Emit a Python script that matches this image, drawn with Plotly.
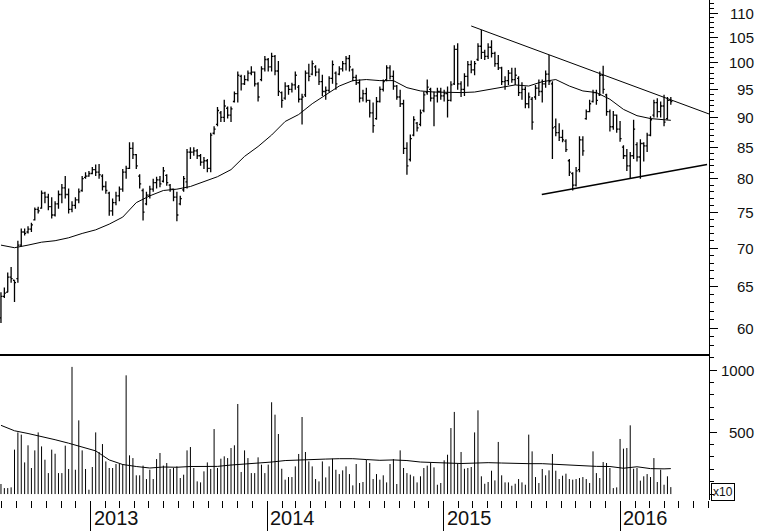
import math
import pandas as pd
import plotly.graph_objects as go
from plotly.subplots import make_subplots

# ---------------- data (weekly bars) ----------------
start_date = "2012-06-29"
n_weeks = 199

price_high = [
    64.3, 64.9, 66.8, 67.5, 65.8, 71.0, 72.7, 72.7, 73.0, 73.5,
    75.7, 75.8, 78.2, 78.0, 77.7, 77.2, 76.6, 78.2, 79.2, 80.4,
    78.5, 76.6, 77.2, 78.5, 80.4, 81.0, 81.2, 81.8, 82.2, 82.3,
    80.7, 79.6, 78.0, 77.0, 78.0, 78.8, 81.5, 82.0, 85.8, 85.8,
    83.9, 80.7, 78.5, 78.0, 78.9, 80.0, 80.3, 80.4, 81.8, 80.7,
    79.2, 78.5, 78.0, 77.4, 80.4, 84.7, 85.0, 85.0, 84.7, 83.9,
    83.4, 83.1, 87.4, 88.5, 91.8, 91.1, 93.1, 91.9, 91.9, 94.6,
    98.3, 97.7, 97.6, 98.5, 99.3, 98.3, 96.3, 99.3, 101.3, 100.9,
    101.9, 101.5, 100.3, 94.6, 96.3, 95.8, 96.2, 98.3, 95.8, 94.2,
    98.5, 99.8, 100.4, 99.5, 98.9, 97.7, 95.5, 97.4, 100.4, 98.3,
    99.3, 100.3, 101.3, 101.5, 98.9, 97.7, 96.8, 94.9, 95.3, 93.1,
    92.6, 93.6, 95.5, 96.8, 99.5, 99.5, 98.5, 95.8, 94.9, 93.1,
    85.8, 87.1, 90.2, 89.2, 91.4, 94.6, 96.8, 95.3, 94.6, 95.3,
    95.3, 94.9, 95.5, 96.5, 103.4, 103.8, 96.5, 98.0, 100.3, 100.4,
    100.3, 103.8, 106.5, 102.5, 103.8, 104.4, 102.1, 101.5, 99.2, 97.4,
    98.6, 99.0, 99.0, 97.4, 96.3, 95.5, 94.4, 93.6, 95.8, 96.8,
    96.8, 98.5, 101.5, 96.5, 89.8, 89.0, 87.9, 86.3, 83.1, 81.0,
    81.8, 86.8, 86.8, 91.4, 93.1, 94.9, 94.9, 98.3, 99.4, 94.2,
    91.4, 91.1, 90.5, 89.4, 85.3, 84.7, 84.2, 89.6, 85.8, 86.3,
    85.8, 87.4, 90.2, 93.1, 93.4, 92.8, 94.0, 93.6, 93.6,
]
price_low = [
    60.6, 63.6, 64.3, 65.5, 63.1, 65.5, 70.2, 71.7, 72.0, 72.2,
    73.8, 74.8, 75.5, 76.3, 75.3, 74.1, 74.4, 75.5, 76.3, 77.0,
    74.8, 75.0, 75.5, 76.3, 78.0, 80.0, 80.3, 80.7, 80.4, 80.0,
    78.2, 77.7, 74.5, 74.5, 76.0, 76.6, 78.0, 80.0, 81.5, 83.1,
    81.5, 78.5, 73.8, 76.0, 77.0, 78.0, 78.5, 78.7, 79.4, 78.9,
    78.0, 76.6, 73.7, 76.0, 78.0, 78.5, 83.1, 83.6, 83.1, 82.0,
    81.5, 81.0, 81.0, 87.1, 88.5, 89.2, 89.2, 89.8, 89.2, 92.6,
    92.6, 94.8, 95.8, 96.5, 97.6, 95.5, 92.8, 96.5, 98.3, 98.3,
    98.3, 97.6, 93.8, 91.7, 93.1, 94.0, 94.4, 94.9, 92.6, 88.8,
    93.6, 96.5, 97.6, 97.4, 95.8, 93.8, 93.1, 94.4, 96.0, 94.9,
    97.6, 98.3, 98.5, 98.3, 96.5, 95.8, 92.6, 92.8, 92.6, 90.0,
    87.4, 89.6, 92.6, 94.6, 96.5, 96.8, 94.9, 93.1, 91.8, 83.9,
    80.6, 82.7, 86.8, 87.6, 88.5, 90.9, 94.0, 92.8, 88.5, 92.6,
    93.1, 92.8, 90.0, 92.8, 95.8, 94.9, 93.6, 93.8, 95.5, 98.0,
    97.6, 100.3, 100.7, 100.5, 100.7, 101.0, 99.2, 98.6, 95.8, 94.9,
    95.8, 96.2, 95.8, 93.8, 93.1, 91.6, 91.6, 87.9, 93.1, 93.8,
    92.6, 95.3, 95.8, 83.1, 86.8, 86.0, 85.8, 84.2, 80.4, 78.2,
    78.8, 81.0, 83.6, 89.6, 90.9, 92.6, 92.2, 93.8, 94.2, 90.3,
    87.6, 87.9, 87.4, 85.9, 83.1, 81.2, 80.0, 83.1, 82.7, 80.0,
    82.7, 84.2, 86.8, 90.0, 90.0, 90.0, 88.5, 89.6, 92.2,
]
price_open = [
    61.2, 63.8, 64.3, 66.2, 65.8, 66.0, 70.4, 72.2, 72.2, 72.6,
    73.9, 75.4, 75.6, 77.8, 77.2, 75.8, 74.6, 76.2, 77.6, 78.6,
    77.6, 75.4, 76.0, 76.8, 78.2, 80.2, 80.4, 80.8, 81.4, 81.0,
    80.4, 78.8, 77.8, 75.2, 76.4, 77.4, 78.4, 81.0, 81.6, 84.8,
    83.8, 80.4, 78.2, 76.2, 77.5, 78.4, 79.4, 79.8, 79.6, 80.5,
    79.0, 78.4, 77.2, 76.2, 78.3, 79.5, 84.2, 84.2, 84.4, 83.6,
    82.6, 82.8, 81.6, 87.3, 88.8, 90.8, 90.0, 91.6, 90.4, 92.8,
    94.2, 97.4, 96.0, 96.8, 98.0, 98.2, 96.0, 96.8, 98.8, 100.6,
    99.2, 101.2, 98.4, 94.4, 93.4, 95.6, 95.0, 95.8, 95.4, 93.2,
    94.0, 98.0, 97.8, 99.2, 98.2, 96.4, 94.6, 94.8, 97.0, 98.0,
    97.8, 98.8, 99.8, 100.8, 98.6, 97.2, 96.2, 93.4, 94.2, 93.0,
    90.8, 89.8, 92.8, 95.0, 96.8, 99.0, 97.4, 95.6, 93.6, 92.4,
    84.8, 83.0, 87.0, 89.0, 88.8, 91.2, 94.4, 95.0, 93.4, 93.8,
    94.6, 93.8, 94.2, 93.0, 96.0, 102.6, 96.0, 95.0, 97.4, 99.6,
    98.6, 100.6, 103.2, 102.0, 101.2, 103.0, 101.8, 99.8, 99.0, 96.4,
    96.6, 98.0, 96.8, 97.0, 94.4, 95.0, 92.4, 93.2, 93.6, 95.2,
    94.6, 96.0, 97.8, 96.0, 88.4, 87.4, 86.6, 86.0, 82.8, 80.8,
    79.0, 81.4, 86.2, 89.8, 91.0, 92.8, 94.4, 94.0, 97.6, 94.0,
    91.0, 88.4, 90.4, 88.0, 85.0, 83.6, 82.0, 83.6, 85.4, 83.4,
    85.6, 85.2, 87.0, 90.4, 92.6, 91.0, 92.0, 89.8, 93.0,
]
price_close = [
    63.8, 64.2, 66.2, 66.0, 65.5, 70.4, 72.2, 72.0, 72.6, 73.2,
    75.4, 75.2, 77.8, 77.2, 75.8, 74.6, 76.2, 77.6, 78.6, 77.6,
    75.4, 76.0, 76.8, 78.0, 80.0, 80.4, 80.8, 81.4, 81.0, 80.6,
    78.8, 78.2, 75.2, 76.4, 77.4, 78.4, 81.0, 81.6, 84.8, 83.8,
    82.0, 79.2, 75.0, 77.5, 78.4, 79.4, 79.8, 79.2, 81.2, 79.4,
    78.4, 77.2, 74.6, 77.0, 80.0, 84.2, 84.2, 84.4, 83.6, 82.6,
    82.8, 81.6, 87.0, 88.0, 91.2, 90.0, 92.0, 90.4, 91.5, 94.2,
    97.6, 96.0, 96.8, 98.0, 98.2, 96.0, 93.6, 98.8, 100.6, 99.2,
    101.2, 98.4, 94.6, 93.0, 95.6, 95.0, 95.8, 97.6, 93.2, 93.6,
    98.0, 97.4, 99.8, 98.2, 96.4, 94.6, 94.8, 97.0, 99.6, 96.0,
    98.8, 99.8, 100.8, 99.2, 97.2, 96.2, 93.4, 94.2, 93.0, 90.8,
    88.6, 92.8, 95.0, 96.4, 99.0, 97.4, 95.6, 93.6, 92.4, 84.8,
    82.0, 86.4, 89.6, 88.2, 90.8, 94.0, 95.4, 93.4, 93.8, 94.6,
    93.8, 94.2, 93.0, 95.8, 102.6, 96.0, 95.0, 97.4, 99.6, 98.6,
    99.8, 103.2, 102.0, 101.2, 103.0, 101.8, 99.8, 99.0, 96.4, 96.6,
    98.0, 96.8, 97.6, 94.4, 95.0, 92.4, 93.6, 89.2, 95.2, 94.6,
    96.0, 97.8, 96.4, 88.2, 87.4, 86.6, 86.2, 84.6, 81.0, 79.0,
    81.2, 86.2, 84.4, 91.0, 92.4, 94.4, 93.0, 97.6, 95.0, 91.0,
    88.4, 90.4, 88.0, 86.4, 83.6, 82.0, 83.6, 88.0, 83.4, 85.6,
    85.2, 87.0, 89.6, 92.6, 91.0, 92.0, 89.2, 93.0, 92.8,
]
volume = [
    81, 48, 48, 54, 358, 497, 479, 255, 393, 210,
    352, 497, 384, 277, 169, 358, 325, 169, 169, 390,
    202, 1025, 196, 594, 352, 202, 35, 218, 497, 339,
    403, 263, 210, 210, 242, 242, 242, 957, 312, 290,
    151, 151, 229, 121, 196, 121, 282, 331, 229, 250,
    202, 210, 223, 129, 156, 352, 379, 210, 102, 94,
    183, 255, 202, 524, 210, 285, 304, 290, 371, 393,
    726, 178, 352, 290, 169, 169, 296, 237, 169, 237,
    740, 640, 484, 204, 116, 137, 137, 223, 323, 621,
    339, 263, 223, 121, 102, 263, 134, 223, 285, 196,
    161, 191, 223, 161, 70, 242, 89, 97, 277, 250,
    121, 161,
    116, 151, 94, 242, 282, 81, 352, 210, 169, 156,
    143, 94, 143, 210, 229, 250, 215, 75, 89, 272,
    317, 532, 662, 245, 339, 204, 210, 218, 497, 675,
    143, 83, 97, 188, 110, 420, 151, 94, 94, 67,
    83, 121, 94, 75, 479, 344, 137, 89, 202, 151,
    191, 323, 188, 121, 148, 164, 121, 116, 121, 129,
    137, 121, 89, 344, 169, 129, 258, 250, 210, 48,
    54, 444, 366, 371, 554, 204, 210, 108, 143, 161,
    137, 290, 97, 196, 75, 143, 56,
]
# moving averages, read every 4th week plus the last week
price_ma = [
    70.4, 70.05, 70.4, 70.8, 71.0, 71.4, 72.0, 72.5, 73.3, 74.3,
    76.4, 77.4, 78.2, 78.4, 78.8, 79.6, 80.3, 81.4, 83.5, 85.1,
    87.0, 89.3, 90.5, 92.4, 94.0, 95.6, 96.6, 96.8, 96.6, 96.6,
    95.3, 94.7, 94.5, 94.4, 94.4, 94.5, 94.9, 95.4, 95.8, 95.6,
    96.4, 96.8, 95.6, 94.7, 94.4, 93.2, 91.4, 90.3, 89.8, 89.6,
    89.5,
]
volume_ma = [
    554, 510, 488, 466, 438, 410, 380, 348, 275, 238,
    222, 210, 218, 216, 222, 221, 223, 234, 242, 245,
    258, 270, 276, 279, 282, 285, 285, 278, 272, 275,
    270, 258, 252, 250, 246, 250, 253, 250, 246, 245,
    245, 238, 233, 226, 223, 222, 208, 220, 205, 203,
    205,
]
upper_trend_dates = ["2015-02-27", "2016-07-03"]
upper_trend_prices = [107.3, 90.6]
lower_trend_dates = ["2015-07-23", "2016-06-29"]
lower_trend_prices = [77.6, 82.2]

price_ticks = [60, 65, 70, 75, 80, 85, 90, 95, 100, 105, 110]
price_minor_ticks = [v for v in range(58, 113) if v % 5 != 0]
volume_ticks = [500, 1000]
volume_minor_ticks = [0, 100, 200, 300, 400, 600, 700, 800, 900, 1100]
year_labels = ["2013", "2014", "2015", "2016"]
x_range = ["2012-06-27", "2016-07-03"]
price_range = [57.1, 112.8]
volume_range = [-48, 1129]

# ---------------- figure ----------------
dates = pd.date_range(start_date, periods=n_weeks, freq="7D")
ma_dates = list(dates[::4]) + [dates[-1]]

fig = make_subplots(rows=2, cols=1, shared_xaxes=True, vertical_spacing=0,
                    row_heights=[0.708, 0.292])

fig.add_trace(go.Ohlc(
    x=dates, open=price_open, high=price_high, low=price_low, close=price_close,
    increasing=dict(line=dict(color="black", width=1.3)),
    decreasing=dict(line=dict(color="black", width=1.3)),
    tickwidth=0.45, showlegend=False, hoverinfo="skip"), row=1, col=1)

fig.add_trace(go.Scatter(x=ma_dates, y=price_ma, mode="lines",
                         line=dict(color="black", width=1), showlegend=False,
                         hoverinfo="skip"), row=1, col=1)
fig.add_trace(go.Scatter(x=upper_trend_dates, y=upper_trend_prices, mode="lines",
                         line=dict(color="black", width=1), showlegend=False,
                         hoverinfo="skip"), row=1, col=1)
fig.add_trace(go.Scatter(x=lower_trend_dates, y=lower_trend_prices, mode="lines",
                         line=dict(color="black", width=1.5), showlegend=False,
                         hoverinfo="skip"), row=1, col=1)

vx, vy = [], []
for d, v in zip(dates, volume):
    vx += [d, d, None]
    vy += [0, v, None]
fig.add_trace(go.Scatter(x=vx, y=vy, mode="lines",
                         line=dict(color="black", width=1), showlegend=False,
                         hoverinfo="skip"), row=2, col=1)
fig.add_trace(go.Scatter(x=ma_dates, y=volume_ma, mode="lines",
                         line=dict(color="black", width=1), showlegend=False,
                         hoverinfo="skip"), row=2, col=1)

label_font = dict(family="Liberation Sans, Arial, sans-serif", size=15, color="#111")

fig.update_layout(
    width=760, height=531,
    margin=dict(l=0, r=51, t=0, b=31, autoexpand=False),
    paper_bgcolor="white", plot_bgcolor="white",
    showlegend=False, hovermode=False,
)
fig.update_xaxes(rangeslider_visible=False, range=x_range, type="date",
                 showgrid=False, zeroline=False, automargin=False)
fig.update_xaxes(row=1, col=1, showline=True, linecolor="black", linewidth=2,
                 ticks="", showticklabels=False)
fig.update_xaxes(row=2, col=1, showline=False, showticklabels=False,
                 ticks="outside", tickmode="linear", tick0="2013-01-01", dtick="M12",
                 ticklen=31, tickcolor="black", tickwidth=1,
                 minor=dict(ticks="outside", tick0="2012-07-01", dtick="M1",
                            ticklen=7, tickcolor="black", tickwidth=1))

fig.update_yaxes(row=1, col=1, type="log", automargin=False,
                 range=[math.log10(price_range[0]), math.log10(price_range[1])],
                 side="right", showline=True, linecolor="black", linewidth=1,
                 showgrid=False, zeroline=False,
                 tickmode="array", tickvals=price_ticks, showticklabels=False,
                 ticks="outside", ticklen=8, tickcolor="black",
                 minor=dict(tickmode="array", tickvals=price_minor_ticks,
                            ticks="outside", ticklen=4, tickcolor="black"))
fig.update_yaxes(row=2, col=1, range=volume_range, automargin=False,
                 side="right", showline=True, linecolor="black", linewidth=1,
                 showgrid=False, zeroline=False,
                 tickmode="array", tickvals=volume_ticks, showticklabels=False,
                 ticks="outside", ticklen=7, tickcolor="black",
                 minor=dict(tickmode="array", tickvals=volume_minor_ticks,
                            ticks="outside", ticklen=4, tickcolor="black"))

# right-aligned axis labels (as in the reference)
label_x = 756 / 709
for v in price_ticks:
    fig.add_annotation(x=label_x, xref="paper", y=math.log10(v), yref="y",
                       text=str(v), showarrow=False, xanchor="right", yanchor="middle",
                       font=label_font)
for v in volume_ticks:
    fig.add_annotation(x=label_x, xref="paper", y=v, yref="y2",
                       text=str(v), showarrow=False, xanchor="right", yanchor="middle",
                       font=label_font)

for lab in year_labels:
    fig.add_annotation(x=f"{lab}-01-01", xref="x2", y=-0.062, yref="paper",
                       text=lab, showarrow=False, xanchor="left", yanchor="bottom",
                       xshift=1,
                       font=dict(family="Liberation Sans, Arial, sans-serif",
                                 size=20, color="#111"))

fig.add_annotation(x=711 / 709, xref="paper", y=0.016, yref="paper", text="x10",
                   showarrow=False, xanchor="left", yanchor="middle",
                   bordercolor="black", borderwidth=1, borderpad=1,
                   font=dict(family="Liberation Sans, Arial, sans-serif",
                             size=12, color="#111"))

fig.write_html("out.html",
               config={"displayModeBar": False, "staticPlot": True},
               post_script="document.body.style.margin='0px';"
                           "document.body.style.padding='0px';"
                           "document.body.style.overflow='hidden';")
